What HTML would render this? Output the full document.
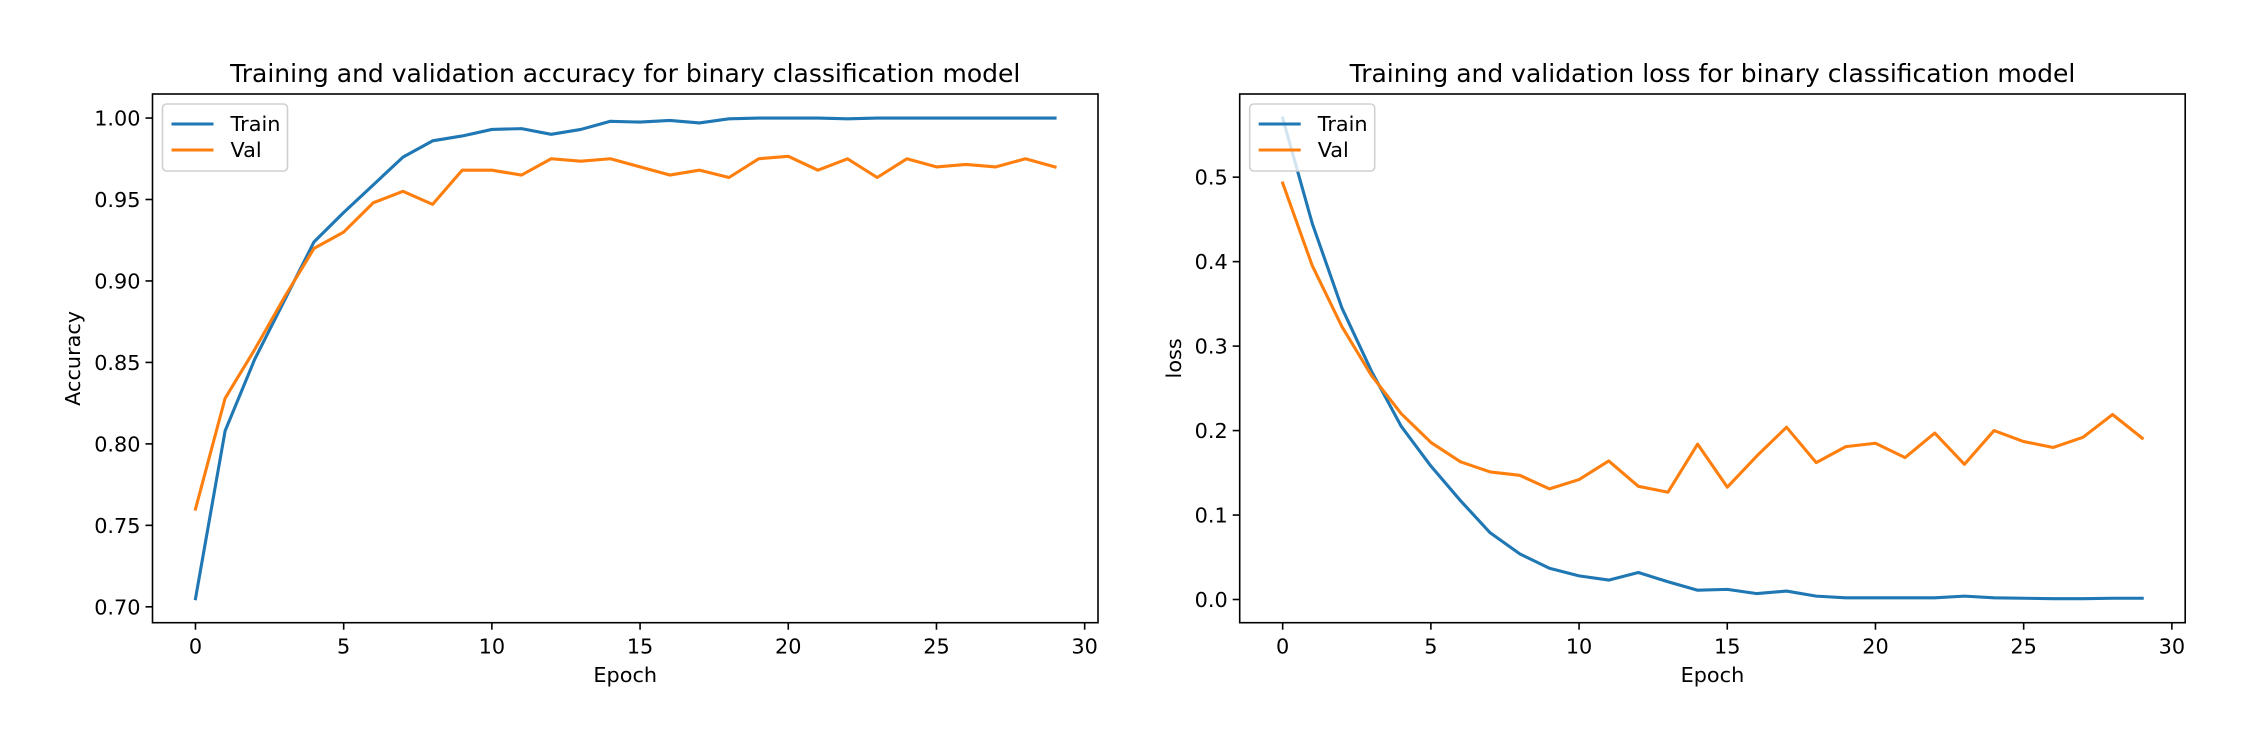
<!DOCTYPE html>
<html><head><meta charset="utf-8"><style>
html,body{margin:0;padding:0;background:#fff}
svg{display:block;font-family:"DejaVu Sans","Liberation Sans",sans-serif}
</style></head><body>
<svg id="fig" width="2250" height="750" viewBox="0 0 2250 750" xmlns="http://www.w3.org/2000/svg"></svg>
<script>
const epochs = Array.from({length:30},(_,i)=>i);
const accTrain = [0.705,0.808,0.852,0.888,0.924,0.942,0.959,0.976,0.986,0.989,0.993,0.9935,0.990,0.993,0.998,0.9975,0.9985,0.997,0.9995,1.0,1.0,1.0,0.9995,1.0,1.0,1.0,1.0,1.0,1.0,1.0];
const accVal = [0.760,0.828,0.858,0.890,0.920,0.930,0.948,0.955,0.947,0.968,0.968,0.965,0.975,0.9735,0.975,0.970,0.965,0.968,0.9635,0.975,0.9765,0.968,0.975,0.9635,0.975,0.970,0.9715,0.970,0.975,0.970];
const lossTrain = [0.57,0.445,0.345,0.27,0.205,0.158,0.117,0.079,0.054,0.037,0.028,0.023,0.032,0.021,0.011,0.012,0.007,0.010,0.004,0.002,0.002,0.002,0.002,0.004,0.002,0.0015,0.001,0.001,0.0015,0.0015];
const lossVal = [0.493,0.395,0.323,0.265,0.220,0.186,0.163,0.151,0.147,0.131,0.142,0.164,0.134,0.127,0.184,0.133,0.170,0.204,0.162,0.181,0.185,0.168,0.197,0.160,0.200,0.187,0.180,0.192,0.219,0.191];
const xTicks = [0,5,10,15,20,25,30];
const accTicks = [0.70,0.75,0.80,0.85,0.90,0.95,1.00];
const lossTicks = [0.0,0.1,0.2,0.3,0.4,0.5];

const NS="http://www.w3.org/2000/svg";
const svg=document.getElementById('fig');
function mk(tag,attrs,parent){const e=document.createElementNS(NS,tag);for(const k in attrs)e.setAttribute(k,attrs[k]);(parent||svg).appendChild(e);return e;}

function panel(cfg){
  const g=mk('g',{});
  
  
  const L=cfg.left,T=94,W=945.5,H=528.7;
  const xmin=-1.45,xmax=30.45;
  const all=cfg.series.flatMap(s=>s.data);
  const dmin=Math.min(...all),dmax=Math.max(...all),m=(dmax-dmin)*0.05;
  const ymin=dmin-m,ymax=dmax+m;
  const sx=v=>L+(v-xmin)/(xmax-xmin)*W;
  const sy=v=>T+H-(v-ymin)/(ymax-ymin)*H;
  // series
  cfg.series.forEach(s=>{
    const p=mk('polyline',{points:s.data.map((v,i)=>sx(epochs[i])+','+sy(v)).join(' '),fill:'none',stroke:s.color,'stroke-width':3.1,'stroke-linejoin':'round','stroke-linecap':'square'},g);
    
    
  });
  // frame
  const fr=mk('rect',{x:L,y:T,width:W,height:H,fill:'none',stroke:'#000','stroke-width':1.6},g);
  
  
  // x ticks
  xTicks.forEach(t=>{
    const x=sx(t);
    mk('line',{x1:x,x2:x,y1:T+H,y2:T+H+7,stroke:'#000','stroke-width':1.6},g);
    const tx=mk('text',{x:x,y:T+H+31,'font-size':20.8,'text-anchor':'middle',fill:'#000'},g);
    tx.textContent=t;
    
    
  });
  cfg.ticks.forEach(t=>{
    const y=sy(t);
    mk('line',{x1:L-7,x2:L,y1:y,y2:y,stroke:'#000','stroke-width':1.6},g);
    const tx=mk('text',{x:L-12,y:y+7.5,'font-size':20.8,'text-anchor':'end',fill:'#000'},g);
    tx.textContent=t.toFixed(cfg.dec);
    
    
  });
  const title=mk('text',{x:L+W/2,y:T-12,'font-size':25,'text-anchor':'middle',fill:'#000'},g);
  title.textContent=cfg.title;
  
  
  const xl=mk('text',{x:L+W/2,y:682,'font-size':20.8,'text-anchor':'middle',fill:'#000'},g);
  xl.textContent='Epoch';
  
  
  const yx=cfg.ylabelX, yc=T+H/2;
  const yl=mk('text',{x:yx,y:yc,'font-size':20.8,'text-anchor':'middle',fill:'#000',transform:`rotate(-90 ${yx} ${yc})`},g);
  yl.textContent=cfg.ylabel;
  
  
  // legend
  const lg=mk('g',{},g);
  
  
  mk('rect',{x:L+10,y:T+10,width:125,height:67,rx:4,fill:'#fff','fill-opacity':0.8,stroke:'#d0d0d0','stroke-width':1.6},lg);
  cfg.series.forEach((s,i)=>{
    const y=T+30+i*26;
    const e=mk('g',{},lg);
    
    
    mk('line',{x1:L+19,x2:L+61,y1:y,y2:y,stroke:s.color,'stroke-width':3.1},e);
    const t=mk('text',{x:L+78,y:y+7,'font-size':20.8,fill:'#000'},e);
    t.textContent=s.label;
  });
}
panel({name:'accuracy-chart',left:152.5,title:'Training and validation accuracy for binary classification model',ylabel:'Accuracy',ylabelX:80,ticks:accTicks,dec:2,
  series:[{data:accTrain,color:'#1f77b4',label:'Train',lname:'train-accuracy-line'},{data:accVal,color:'#ff7f0e',label:'Val',lname:'val-accuracy-line'}]});
panel({name:'loss-chart',left:1239.7,title:'Training and validation loss for binary classification model',ylabel:'loss',ylabelX:1181,ticks:lossTicks,dec:1,
  series:[{data:lossTrain,color:'#1f77b4',label:'Train',lname:'train-loss-line'},{data:lossVal,color:'#ff7f0e',label:'Val',lname:'val-loss-line'}]});
</script>
</body></html>
